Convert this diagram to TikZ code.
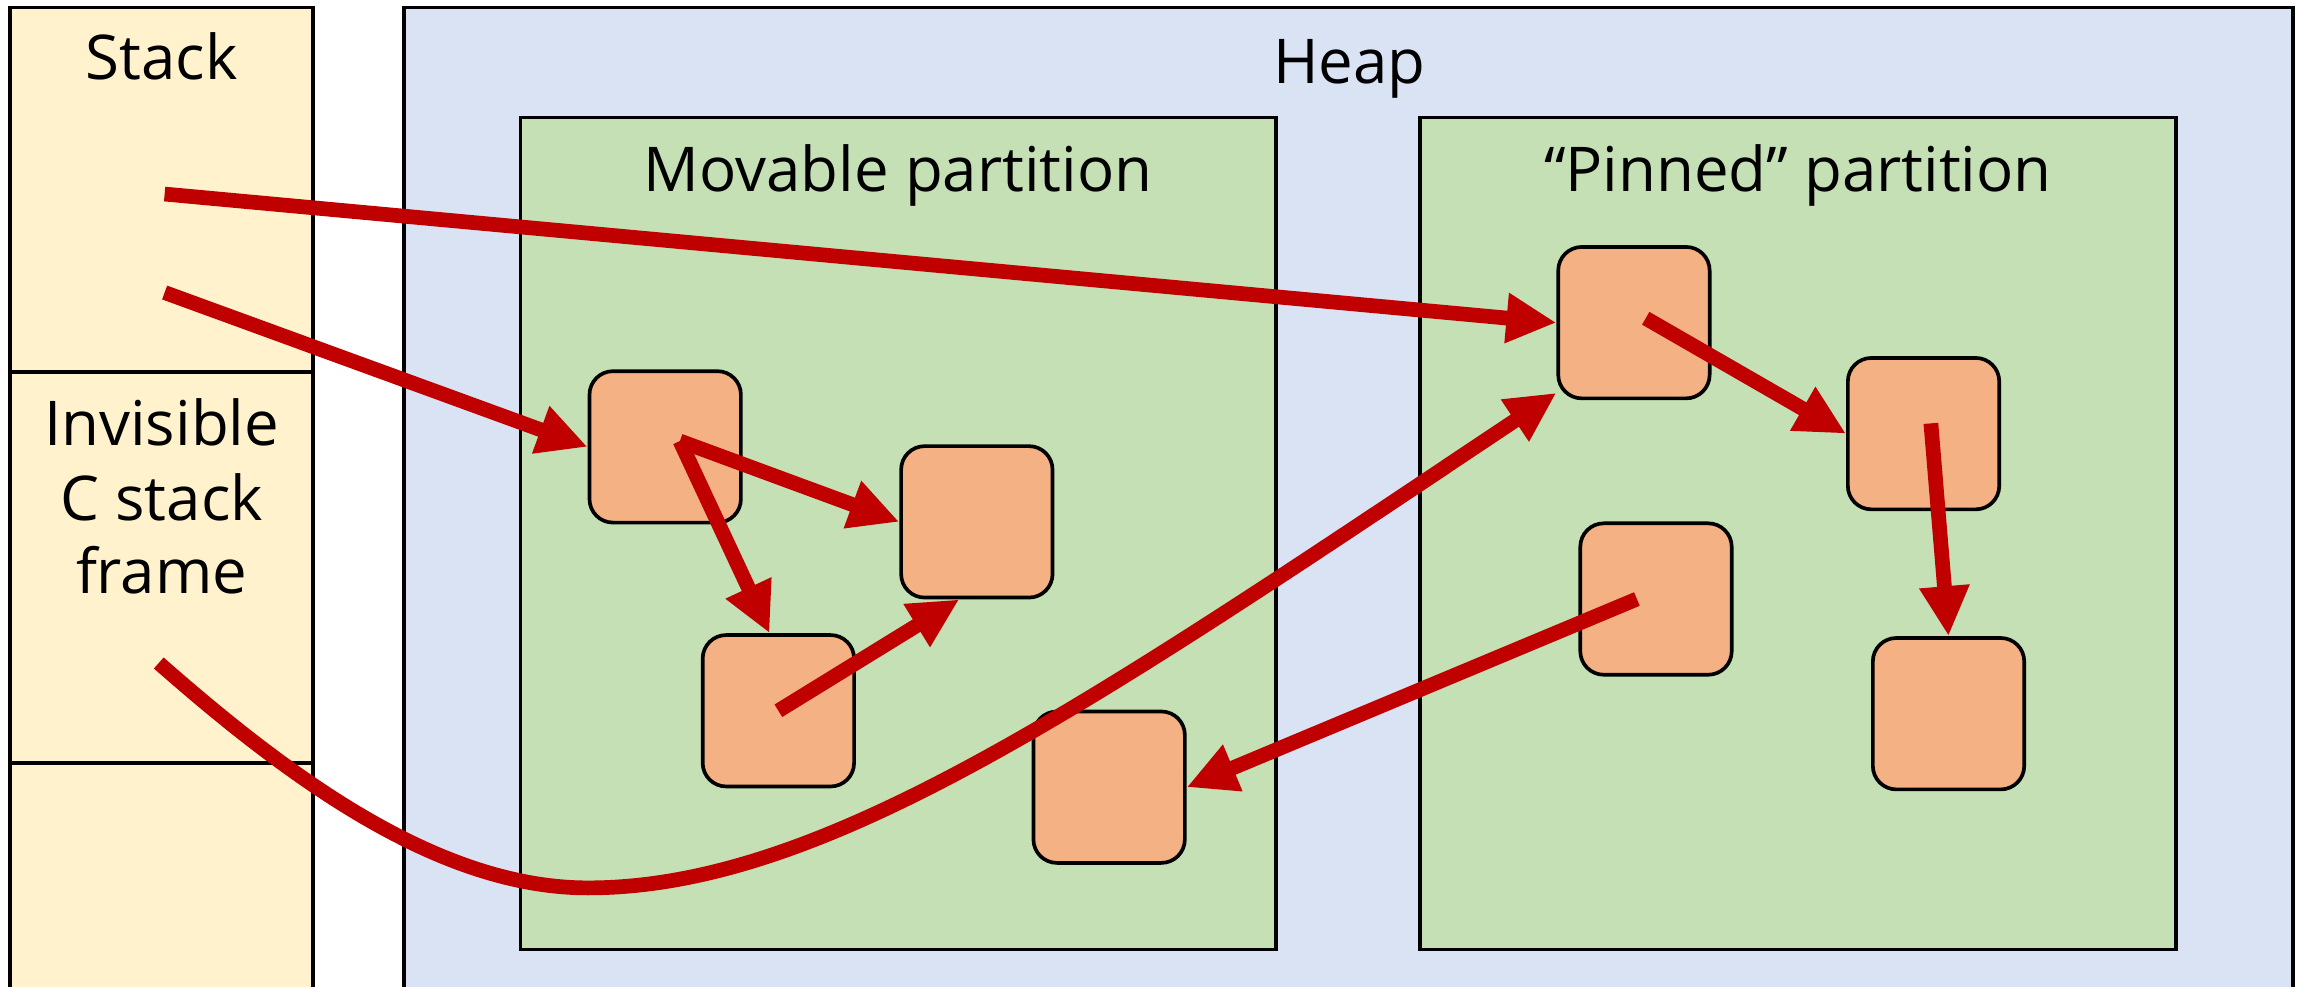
\documentclass[tikz,border=0pt]{standalone}
\usepackage{fontspec}
\setmainfont{Open Sans}
\usetikzlibrary{arrows.meta,calc}
\definecolor{stackfill}{HTML}{FFF2CC}
\definecolor{heapfill}{HTML}{DAE3F3}
\definecolor{partfill}{HTML}{C5E0B4}
\definecolor{objfill}{HTML}{F4B183}
\definecolor{ptr}{HTML}{C00000}
\begin{document}
\begin{tikzpicture}[x=1pt,y=-1pt,
  region/.style={draw=black, line width=2.5pt},
  obj/.style={draw=black, fill=objfill, line width=2.5pt, rounded corners=16pt,
    minimum width=103pt, minimum height=103pt, inner sep=0pt},
  ptrarrow/.style={draw=ptr, line width=10pt, -{Triangle[length=34pt,width=32pt]}},
  lbl/.style={font=\fontsize{42}{50}\selectfont, inner sep=0pt, anchor=base}
]
\useasboundingbox (0,0) rectangle (1568,671);
\clip (0,0) rectangle (1568,671);

% stack column
\draw[region, fill=stackfill] (7,5) rectangle (213,690);
\draw[region] (7,253) -- (213,253);
\draw[region] (7,519) -- (213,519);
\node[lbl] (stacklbl) at (110,54) {Stack};
\node[lbl] (inv1) at (110,303) {Invisible};
\node[lbl] (inv2) at (110,354) {C stack};
\node[lbl] (inv3) at (110,404) {frame};

% heap with its two partitions
\draw[region, fill=heapfill] (275,5) rectangle (1560,690);
\node[lbl] (heaplbl) at (918,57) {Heap};
\draw[region, fill=partfill] (354,80) rectangle (868,646);
\draw[region, fill=partfill] (966,80) rectangle (1480,646);
\node[lbl] (movlbl) at (611,130) {Movable partition};
\node[lbl] (pinlbl) at (1223,130) {“Pinned” partition};

% heap objects
\node[obj] (m1) at (452.5,304) {};
\node[obj] (m2) at (664.5,355) {};
\node[obj] (m3) at (529.5,483.5) {};
\node[obj] (m4) at (754.5,535.5) {};
\node[obj] (p1) at (1111.5,219.5) {};
\node[obj] (p2) at (1308.5,295) {};
\node[obj] (p3) at (1126.5,407.5) {};
\node[obj] (p4) at (1325.5,485.5) {};

% roots on the stacks
\coordinate (s1) at (112,132);
\coordinate (s2) at (112,199);
\coordinate (c0) at (108,451);
\coordinate (low) at (400,604);

% references
\draw[ptrarrow] (s1) -- (p1.west);
\draw[ptrarrow] (s2) -- (m1.west);
\draw[ptrarrow] ($(m1.center)+(10,-4)$) -- (m2.west);
\draw[ptrarrow] ($(m1.center)+(10,-4)$) -- ($(m3.north)+(-6,0)$);
\draw[ptrarrow] (m3.center) -- ($(m2.south)+(-12,0)$);
\draw[ptrarrow] (c0) .. controls (200,532) and (300,604) .. (low)
  .. controls (560,604) and (740,480) .. ($(p1.south west)+(0,-5)$);
\draw[ptrarrow] ($(p1.center)+(8,-3)$) -- (p2.west);
\draw[ptrarrow] ($(p2.center)+(5,-7)$) -- (p4.north);
\draw[ptrarrow] ($(p3.center)+(-13,0)$) -- (m4.east);
\end{tikzpicture}
\end{document}
